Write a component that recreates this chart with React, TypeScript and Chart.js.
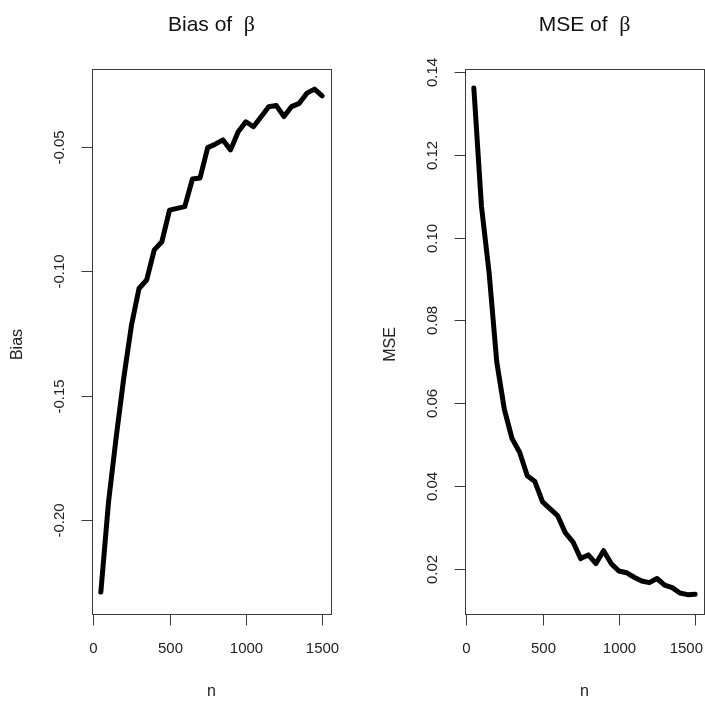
import React, { useEffect, useRef } from "react";
import { Chart, registerables } from "chart.js";

Chart.register(...registerables);

// ---- data ----
const sampleSizes = [
  50, 100, 150, 200, 250, 300, 350, 400, 450, 500,
  550, 600, 650, 700, 750, 800, 850, 900, 950, 1000,
  1050, 1100, 1150, 1200, 1250, 1300, 1350, 1400, 1450, 1500,
];
const biasValues = [
  -0.229, -0.193, -0.167, -0.143, -0.122, -0.107, -0.1036, -0.0915, -0.0882, -0.0755,
  -0.0748, -0.0741, -0.063, -0.0626, -0.0504, -0.049, -0.0473, -0.0513, -0.044, -0.040,
  -0.042, -0.038, -0.034, -0.0335, -0.0379, -0.0339, -0.0326, -0.0285, -0.0269, -0.0296,
];
const mseValues = [
  0.1361, 0.1075, 0.0915, 0.070, 0.0585, 0.0515, 0.0482, 0.0425, 0.0411, 0.0362,
  0.0345, 0.0328, 0.0287, 0.0265, 0.0225, 0.0234, 0.0213, 0.0244, 0.0213, 0.0195,
  0.0191, 0.018, 0.0171, 0.0167, 0.0177, 0.0161, 0.0155, 0.0142, 0.0138, 0.0139,
];
const xTicks = [0, 500, 1000, 1500];
const xTickLabels = ["0", "500", "1000", "1500"];
const biasTicks = [-0.2, -0.15, -0.1, -0.05];
const biasTickLabels = ["-0.20", "-0.15", "-0.10", "-0.05"];
const mseTicks = [0.02, 0.04, 0.06, 0.08, 0.1, 0.12, 0.14];
const mseTickLabels = ["0.02", "0.04", "0.06", "0.08", "0.10", "0.12", "0.14"];

const FONT = "'Liberation Sans', Arial, sans-serif";
const SYMBOL_FONT = "'Liberation Serif', 'DejaVu Serif', serif";

type PanelCfg = {
  values: number[];
  yMin: number;
  yMax: number;
  yTicks: number[];
  yTickLabels: string[];
  titleText: string;
  yLabel: string;
  padding: { left: number; right: number; top: number; bottom: number };
};

const TITLE_Y = 23;
const XTICK_LABEL_Y = 649;
const XLABEL_Y = 692;

function makeDecor(cfg: PanelCfg) {
  return {
    id: "rDecor",
    afterDraw(chart: any) {
      const ctx = chart.ctx as CanvasRenderingContext2D;
      const a = chart.chartArea;
      const xs = chart.scales.x;
      const ys = chart.scales.y;
      const cw = chart.width;
      ctx.save();
      // box
      ctx.strokeStyle = "#3a3a3a";
      ctx.lineWidth = 1;
      ctx.strokeRect(Math.round(a.left) + 0.5, Math.round(a.top) + 0.5, Math.round(a.right - a.left), Math.round(a.bottom - a.top));
      // x ticks
      ctx.fillStyle = "#222";
      ctx.font = `15px ${FONT}`;
      ctx.textAlign = "center";
      ctx.textBaseline = "middle";
      const bottom = Math.round(a.bottom) + 0.5;
      xTicks.forEach((t, i) => {
        const px = Math.round(xs.getPixelForValue(t)) + 0.5;
        ctx.beginPath();
        ctx.moveTo(px, bottom);
        ctx.lineTo(px, bottom + 11);
        ctx.stroke();
        const w = ctx.measureText(xTickLabels[i]).width;
        let lx = px;
        if (lx + w / 2 > cw - 2) lx = cw - 2 - w / 2;
        ctx.fillText(xTickLabels[i], lx, XTICK_LABEL_Y);
      });
      // y ticks
      const left = Math.round(a.left) + 0.5;
      cfg.yTicks.forEach((t, i) => {
        const py = Math.round(ys.getPixelForValue(t)) + 0.5;
        ctx.beginPath();
        ctx.moveTo(left - 11, py);
        ctx.lineTo(left, py);
        ctx.stroke();
        ctx.save();
        ctx.translate(a.left - 32, py);
        ctx.rotate(-Math.PI / 2);
        ctx.fillText(cfg.yTickLabels[i], 0, 0);
        ctx.restore();
      });
      // axis labels
      const cx = (a.left + a.right) / 2;
      const cy = (a.top + a.bottom) / 2;
      ctx.font = `16px ${FONT}`;
      ctx.fillText("n", cx, XLABEL_Y);
      ctx.save();
      ctx.translate(a.left - 74, cy + 3);
      ctx.rotate(-Math.PI / 2);
      ctx.fillText(cfg.yLabel, 0, 0);
      ctx.restore();
      // title: text + beta
      const tFont = `21px ${FONT}`;
      const bFont = `22px ${SYMBOL_FONT}`;
      ctx.font = tFont;
      const w1 = ctx.measureText(cfg.titleText).width;
      ctx.font = bFont;
      const w2 = ctx.measureText("β").width;
      const total = w1 + w2;
      const x0 = cx - total / 2;
      ctx.textAlign = "left";
      ctx.textBaseline = "alphabetic";
      ctx.fillStyle = "#111";
      ctx.font = tFont;
      ctx.fillText(cfg.titleText, x0, TITLE_Y + 8);
      ctx.font = bFont;
      ctx.fillText("β", x0 + w1, TITLE_Y + 8);
      ctx.restore();
    },
  };
}

function Panel({ cfg, left, width }: { cfg: PanelCfg; left: number; width: number }) {
  const ref = useRef<HTMLCanvasElement | null>(null);
  useEffect(() => {
    if (!ref.current) return;
    const chart = new Chart(ref.current, {
      type: "line",
      data: {
        datasets: [
          {
            data: sampleSizes.map((n, i) => ({ x: n, y: cfg.values[i] })),
            borderColor: "#000",
            borderWidth: 5,
            borderJoinStyle: "round",
            borderCapStyle: "round",
            pointRadius: 0,
            tension: 0,
            fill: false,
          },
        ],
      },
      options: {
        responsive: false,
        animation: false,
        devicePixelRatio: 1,
        layout: { padding: cfg.padding },
        plugins: { legend: { display: false }, tooltip: { enabled: false }, title: { display: false } },
        scales: {
          x: { type: "linear", min: -8, max: 1558, display: false },
          y: { type: "linear", min: cfg.yMin, max: cfg.yMax, display: false },
        },
      },
      plugins: [makeDecor(cfg)],
    } as any);
    return () => chart.destroy();
  }, []);
  return (
    <canvas
      ref={ref}
      width={width}
      height={701}
      style={{ position: "absolute", left, top: 0, width, height: 701 }}
    />
  );
}

const biasCfg: PanelCfg = {
  values: biasValues,
  yMin: -0.2378,
  yMax: -0.0188,
  yTicks: biasTicks,
  yTickLabels: biasTickLabels,
  titleText: "Bias of  ",
  yLabel: "Bias",
  padding: { left: 92, right: 352 - 331, top: 69, bottom: 701 - 614 },
};

const mseCfg: PanelCfg = {
  values: mseValues,
  yMin: 0.00913,
  yMax: 0.1407,
  yTicks: mseTicks,
  yTickLabels: mseTickLabels,
  titleText: "MSE of  ",
  yLabel: "MSE",
  padding: { left: 465 - 352, right: 1, top: 69, bottom: 701 - 614 },
};

export default function App() {
  return (
    <div style={{ position: "absolute", left: 0, top: 0, width: 705, height: 701, background: "#fff" }}>
      <Panel cfg={biasCfg} left={0} width={352} />
      <Panel cfg={mseCfg} left={352} width={353} />
    </div>
  );
}
